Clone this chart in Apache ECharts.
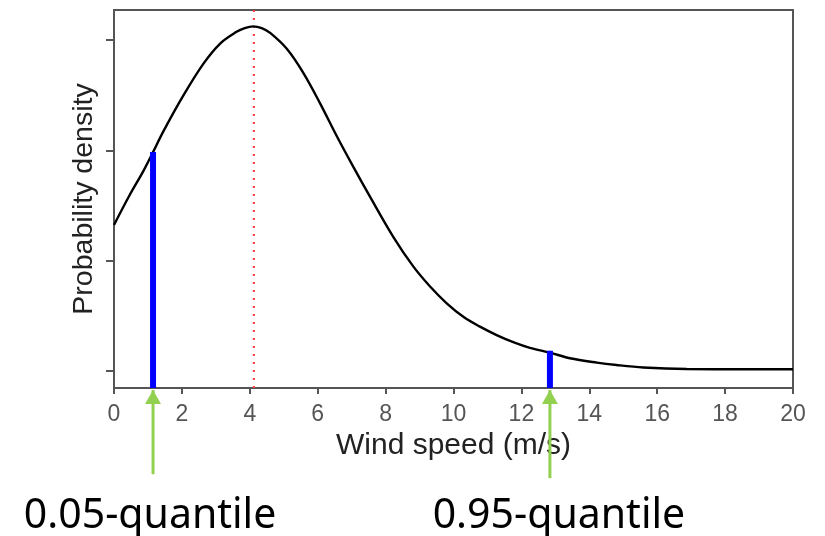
<!DOCTYPE html>
<html>
<head>
<meta charset="utf-8">
<script src="https://cdn.jsdelivr.net/npm/echarts@6/dist/echarts.min.js"></script>
<style>
  html, body { margin: 0; padding: 0; background: #fff; }
  #chart { width: 825px; height: 536px; }
</style>
</head>
<body>
<div id="chart"></div>
<script>
// density curve
const windSpeed = [0, 0.47, 0.86, 1.15, 1.45, 2.04, 2.63, 3.12, 3.61, 3.85, 4.1, 4.35, 4.6, 5.09, 5.58, 6.07, 6.56, 7.05, 7.54, 8.23, 8.82, 9.31, 9.8, 10.29, 10.78, 11.27, 11.76, 12.25, 12.84, 13.43, 14.22, 14.8, 15.59, 16.87, 18.5, 20]
const density = [0.0662, 0.0800, 0.0905, 0.0992, 0.1085, 0.1248, 0.1392, 0.1483, 0.1537, 0.1554, 0.1562, 0.1554, 0.1532, 0.1460, 0.1350, 0.1213, 0.1065, 0.0925, 0.0790, 0.0607, 0.0473, 0.0383, 0.0307, 0.0246, 0.0201, 0.0163, 0.0131, 0.0105, 0.0083, 0.0058, 0.0038, 0.0027, 0.0016, 0.0009, 0.0008, 0.0008]

const modeSpeed = 4.12
const quantileSpeed = [1.15, 12.84]
const quantileDensity = [0.0992, 0.0092]
const quantileLabels = ['0.05-quantile', '0.95-quantile']
const arrowTail = [-0.0467, -0.0485]
const arrowTip = -0.0086

const yTicks = [0, 0.05, 0.1, 0.15]
const yMin = -0.0077
const yMax = 0.1636

const chart = echarts.init(document.getElementById('chart'))

const quantileSeries = quantileSpeed.map((q, i) => ({
  type: 'line',
  data: [[q, yMin], [q, quantileDensity[i]]],
  symbol: 'none',
  lineStyle: { color: '#0000ff', width: 6, cap: 'butt' },
  z: 3
}))

const arrowSeries = quantileSpeed.map((q, i) => ({
  type: 'line',
  clip: false,
  data: [
    {
      value: [q, arrowTail[i]],
      symbol: 'circle',
      symbolSize: 1,
      label: {
        show: true,
        position: 'bottom',
        distance: i === 0 ? 21 : 17,
        offset: [i === 0 ? -3 : 9, 0],
        formatter: quantileLabels[i],
        fontFamily: 'Noto Sans',
        fontSize: 41,
        color: '#000'
      }
    },
    { value: [q, arrowTip], symbol: 'triangle', symbolSize: [16, 14], symbolOffset: [0, 7] }
  ],
  itemStyle: { color: '#92d050' },
  lineStyle: { color: '#92d050', width: 3 },
  z: 4
}))

chart.setOption({
  animation: false,
  grid: {
    left: 114, right: 32, top: 10, bottom: 148,
    show: true, borderColor: '#555', borderWidth: 2
  },
  xAxis: {
    type: 'value',
    min: 0, max: 20, interval: 2,
    name: 'Wind speed (m/s)',
    nameLocation: 'middle',
    nameGap: 42,
    nameTextStyle: { fontFamily: 'Liberation Sans', fontSize: 30, color: '#222' },
    axisLine: { onZero: false, lineStyle: { color: '#555', width: 2 } },
    axisTick: { length: 6, lineStyle: { color: '#555', width: 2 } },
    axisLabel: { fontFamily: 'Liberation Sans', fontSize: 23, color: '#555', margin: 15 },
    splitLine: { show: false }
  },
  yAxis: {
    type: 'value',
    min: yMin, max: yMax,
    name: 'Probability density',
    nameLocation: 'middle',
    nameRotate: 90,
    nameGap: 15,
    nameTextStyle: { fontFamily: 'Liberation Sans', fontSize: 28.5, color: '#222' },
    axisLine: { show: true, onZero: false, lineStyle: { color: '#555', width: 2 } },
    axisTick: { length: 8, customValues: yTicks, lineStyle: { color: '#555', width: 2 } },
    axisLabel: { show: false },
    splitLine: { show: false }
  },
  series: [
    {
      type: 'line',
      data: windSpeed.map((x, i) => [x, density[i]]),
      symbol: 'none',
      smooth: 0.35,
      lineStyle: { color: '#000', width: 2.4 },
      z: 2
    },
    {
      type: 'line',
      data: [[modeSpeed, yMin], [modeSpeed, yMax]],
      symbol: 'none',
      lineStyle: { color: '#ff3b3b', width: 2, type: [2, 6] },
      z: 1
    },
    ...quantileSeries,
    ...arrowSeries
  ]
})
</script>
</body>
</html>
